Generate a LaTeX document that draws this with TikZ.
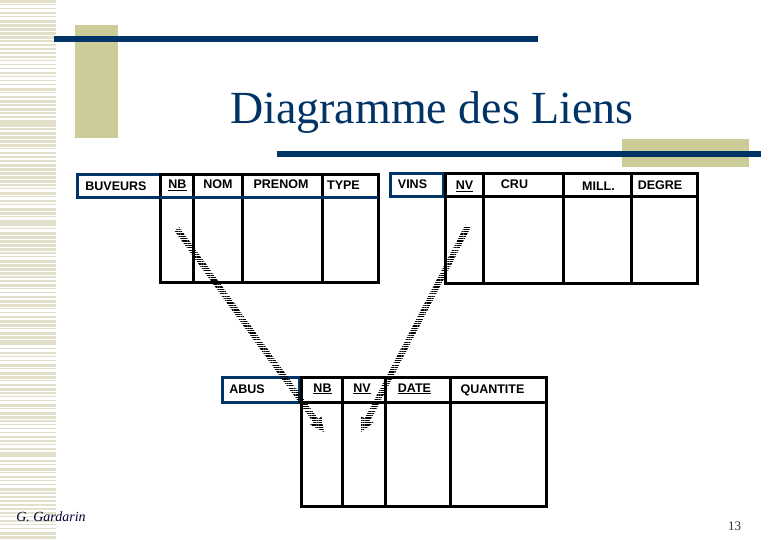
\documentclass[tikz,border=0pt]{standalone}
\usepackage{fontspec}
\setmainfont{Liberation Serif}
\newfontfamily\cellfont{Liberation Sans}
\usetikzlibrary{calc,patterns.meta}
\definecolor{navy}{HTML}{003366}
\definecolor{tanc}{HTML}{CCCC99}
\definecolor{stripec}{HTML}{E2E0CA}
\tikzset{
  navybox/.style={draw=navy, line width=3pt},
  tab/.style={draw=black, line width=3pt},
  cell/.style={inner sep=0pt, anchor=base, font=\cellfont\fontsize{12.5}{15}\selectfont\bfseries},
  hatch/.style={pattern={Lines[angle=0,distance=2.3pt,line width=1.2pt]}, pattern color=black},
}
\begin{document}
\begin{tikzpicture}[x=1pt,y=-1pt]
\useasboundingbox (0,0) rectangle (780,540);
\fill[white] (0,0) rectangle (780,540);
% left stripes
\pgfmathsetseed{7}
\foreach \i in {0,...,134}{
  \pgfmathsetmacro{\hh}{0.8+2.8*rnd}
  \fill[stripec] (0,\i*4) rectangle (56,\i*4+\hh);
}
% decorative rectangles and bars
\fill[tanc] (75,25) rectangle (118,138);
\fill[tanc] (622,139) rectangle (749,167);
\fill[navy] (54,36) rectangle (538,42.5);
\fill[navy] (277,151.5) rectangle (761,157.5);
% title
\node[anchor=base, inner sep=0pt, text=navy, font=\fontsize{46}{50}\selectfont] (title) at (432,124) {Diagramme des Liens};
% BUVEURS
\draw[navybox] (77,175) rectangle (160,198);
\draw[tab] (160,175) rectangle (378,283);
\foreach \x in {193,242,322}{\draw[tab] (\x,175) -- (\x,283);}
\draw[navybox] (160,198) -- (378,198);
\node[cell] (buveurs) at (116,191) {BUVEURS};
\node[cell] (bnb) at (177.5,189) {\underline{NB}};
\node[cell] (bnom) at (218,189) {NOM};
\node[cell] (bprenom) at (281,189) {PRENOM};
\node[cell] (btype) at (343.5,190) {TYPE};
% VINS
\draw[navybox] (390,174) rectangle (443,197);
\draw[tab] (445,174) rectangle (697,284);
\foreach \x in {483,563,631}{\draw[tab] (\x,174) -- (\x,284);}
\draw[tab] (445,197) -- (697,197);
\node[cell] (vins) at (412.5,189) {VINS};
\node[cell] (vnv) at (464.5,190) {\underline{NV}};
\node[cell] (vcru) at (514.5,189) {CRU};
\node[cell] (vmill) at (598.5,191) {MILL.};
\node[cell] (vdegre) at (660,190) {DEGRE};
% ABUS
\draw[navybox] (222,378) rectangle (299,402);
\draw[tab] (301,378) rectangle (546,506);
\foreach \x in {342,385,450}{\draw[tab] (\x,378) -- (\x,506);}
\draw[tab] (301,402) -- (546,402);
\node[cell] (abus) at (247,394) {ABUS};
\node[cell] (anb) at (322.5,392) {\underline{NB}};
\node[cell] (anv) at (362,392) {\underline{NV}};
\node[cell] (adate) at (414.5,392) {\underline{DATE}};
\node[cell] (aquant) at (492.5,393) {QUANTITE};
% link arrows
\coordinate (s1) at (177,229);
\coordinate (e1) at (324,432);
\coordinate (s2) at (468,226);
\coordinate (e2) at (361,432);
\foreach \s/\e in {s1/e1, s2/e2}{
  \coordinate (b) at ($(\e)!14pt!(\s)$);
  \fill[hatch] ($(\s)!3pt!90:(\e)$) -- ($(\s)!3pt!-90:(\e)$) -- ($(b)!3pt!90:(\s)$) -- ($(b)!3pt!-90:(\s)$) -- cycle;
  \fill[hatch] (\e) -- ($(b)!7pt!90:(\s)$) -- ($(b)!7pt!-90:(\s)$) -- cycle;
}
% footer
\node[inner sep=0pt, text=black!80!blue, font=\itshape\fontsize{14}{16}\selectfont] (author) at (51,517) {G. Gardarin};
\node[inner sep=0pt, text=black!80, font=\fontsize{13}{15}\selectfont] (page) at (734.5,526.5) {13};
\end{tikzpicture}
\end{document}
